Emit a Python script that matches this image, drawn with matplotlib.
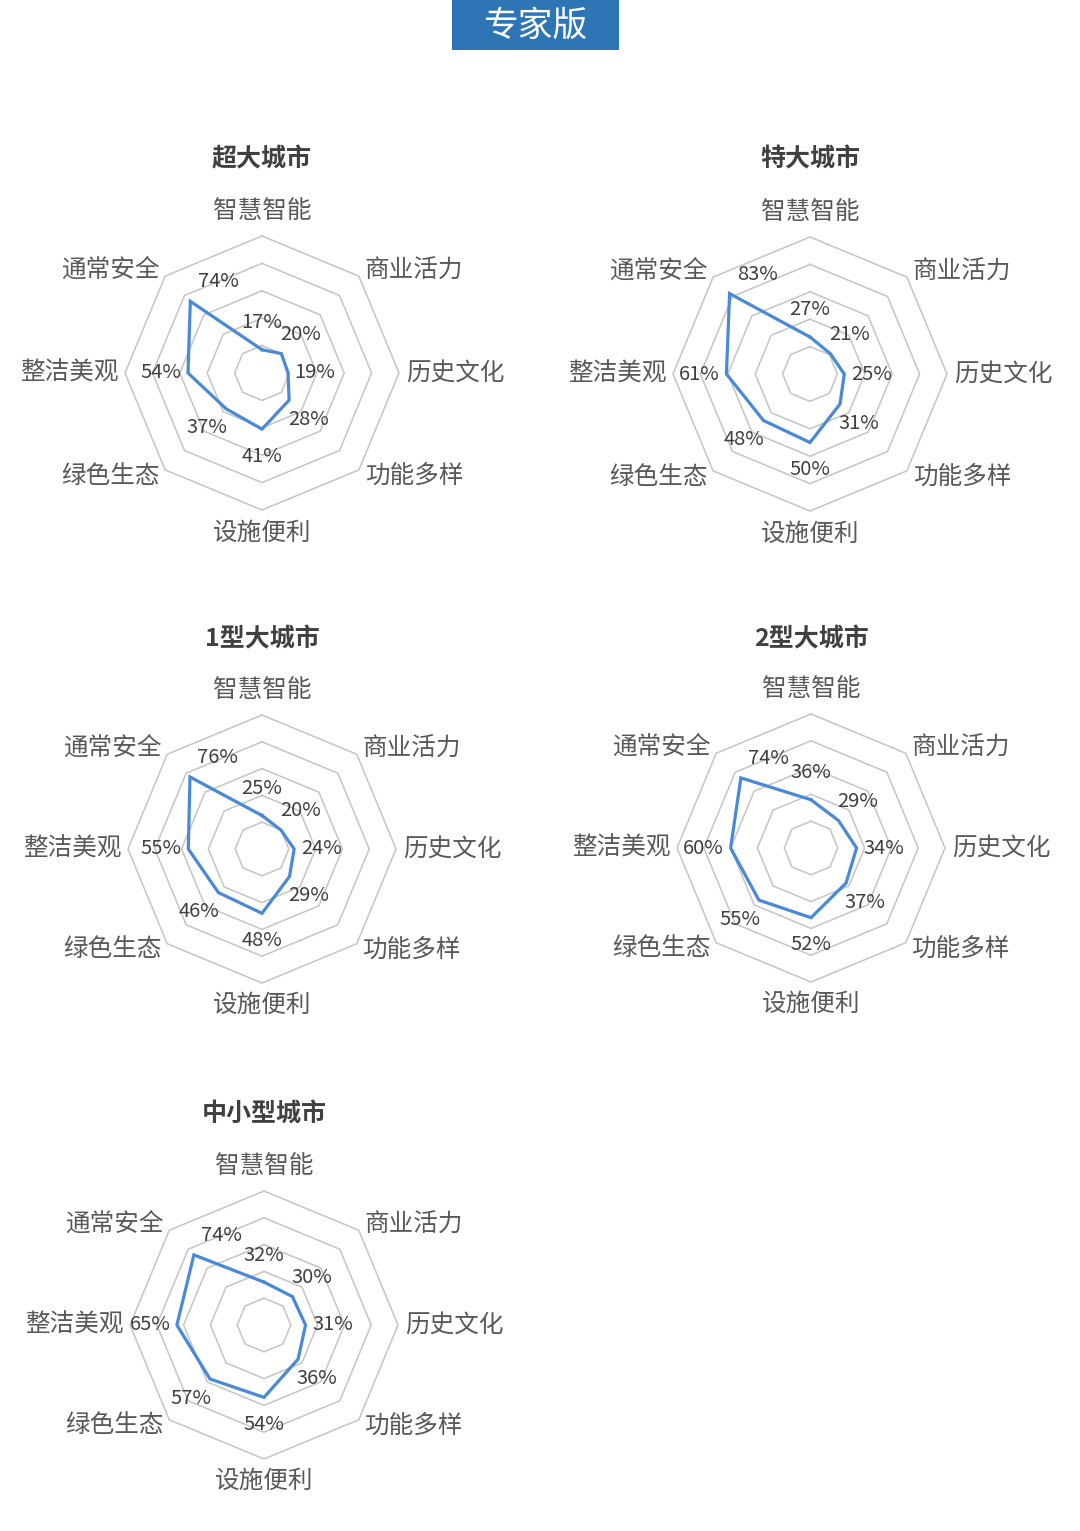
import numpy as np
import matplotlib
matplotlib.use('Agg')
import matplotlib.pyplot as plt
from matplotlib.patches import Rectangle

plt.rcParams['font.family'] = ['Noto Sans CJK SC', 'DejaVu Sans']

# 维度 (从正上方开始顺时针)
dims = ['智慧智能', '商业活力', '历史文化', '功能多样', '设施便利', '绿色生态', '整洁美观', '通常安全']

titles = ['超大城市', '特大城市', '1型大城市', '2型大城市', '中小型城市']
chaoda = [17, 20, 19, 28, 41, 37, 54, 74]
teda = [27, 21, 25, 31, 50, 48, 61, 83]
xing1 = [25, 20, 24, 29, 48, 46, 55, 76]
xing2 = [36, 29, 34, 37, 52, 55, 60, 74]
zhongxiao = [32, 30, 31, 36, 54, 57, 65, 74]
rings = [0.2, 0.4, 0.6, 0.8, 1.0]

W, H = 1080, 1531
fig = plt.figure(figsize=(W / 100, H / 100), dpi=100)
fig.patch.set_facecolor('white')

# 标题框
fig.patches.append(Rectangle((452 / W, 1 - 50 / H), 167 / W, 50 / H, transform=fig.transFigure,
                             facecolor='#2E75B6', edgecolor='none'))
fig.text(535.5 / W, 1 - 26 / H, '专家版', ha='center', va='center', color='white', fontsize=25)

# 每个雷达图的中心和半径 (像素)
centers = [(262, 373), (810, 374), (262, 849), (811, 848), (264, 1325)]
radii = [137, 137, 134, 134, 134]
title_y = [159, 159, 639, 639, 1115]
data_all = [chaoda, teda, xing1, xing2, zhongxiao]

line_c = '#4A88D8'
grid_c = '#C6C6C6'
lab_c = '#595959'
val_c = '#404040'

n = len(dims)
theta = np.arange(n) * 2 * np.pi / n
theta_c = np.append(theta, theta[0])

for (cx, cy), R, ty, title, vals in zip(centers, radii, title_y, titles, data_all):
    ax = fig.add_axes([(cx - R) / W, (H - cy - R) / H, 2 * R / W, 2 * R / H], projection='polar')
    ax.set_theta_zero_location('N')
    ax.set_theta_direction(-1)
    ax.set_ylim(0, 1)
    ax.grid(False)
    ax.spines['polar'].set_visible(False)
    ax.set_xticks([])
    ax.set_yticks([])
    ax.patch.set_alpha(0)

    for r in rings:
        ax.plot(theta_c, [r] * (n + 1), color=grid_c, lw=1.15, clip_on=False, zorder=1)

    v = np.array(vals) / 100
    ax.plot(theta_c, np.append(v, v[0]), color=line_c, lw=2.3, clip_on=False, zorder=3,
            solid_joinstyle='miter')

    # 数据标签
    for i, (t, val) in enumerate(zip(theta, v)):
        if i == 7:
            off = (20, 14)
        else:
            off = (19.5 * np.sin(t), 19.5 * np.cos(t))
        ax.annotate(f'{vals[i]}%', (t, val), xytext=off, textcoords='offset points',
                    ha='center', va='center', fontsize=14.5, color=val_c, zorder=4,
                    annotation_clip=False)

    # 维度标签
    for i, t in enumerate(theta):
        s = np.sin(t)
        if i == 0:
            ax.text(t, 1.09, dims[i], ha='center', va='bottom', fontsize=17.7, color=lab_c)
        elif i == 4:
            ax.text(t, 1.07, dims[i], ha='center', va='top', fontsize=17.7, color=lab_c)
        elif i in (2, 6):
            ax.text(t, 1.05, dims[i], ha='left' if s > 0 else 'right', va='center',
                    fontsize=17.7, color=lab_c)
        else:
            ax.text(t, 1.06, dims[i], ha='left' if s > 0 else 'right', va='center',
                    fontsize=17.7, color=lab_c)

    fig.text(cx / W, 1 - ty / H, title,
             ha='center', va='center', fontsize=18, fontweight='bold', color='#404040')

fig.savefig('out.png', dpi=100, facecolor='white')
